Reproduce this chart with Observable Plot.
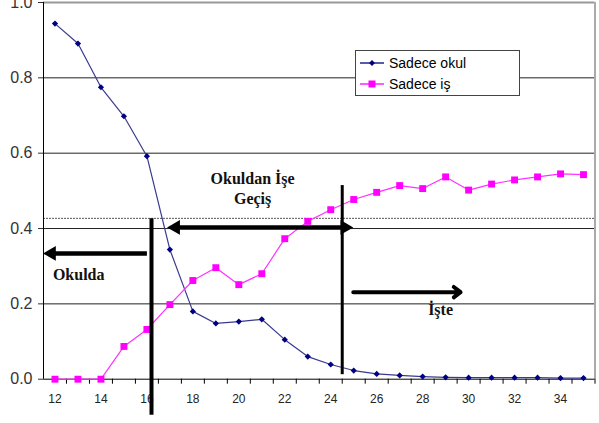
<!DOCTYPE html>
<html><head><meta charset="utf-8">
<script src="https://cdn.jsdelivr.net/npm/d3@7"></script>
<script src="https://cdn.jsdelivr.net/npm/@observablehq/plot@0.6"></script>
<style>
body{margin:0;background:#fff;}
#wrap{position:relative;width:599px;height:423px;overflow:hidden;}
#legend{position:absolute;left:355px;top:50px;width:163px;height:44px;background:#fff;border:1px solid #444;font-family:"Liberation Sans",Arial,sans-serif;font-size:14px;color:#000;}
.row{position:absolute;left:4px;height:18px;display:flex;align-items:center;}
.row span{margin-left:5px;}
</style></head>
<body>
<div id="wrap"><div id="chart"></div>
<div id="legend">
 <div class="row" style="top:3px"><svg width="24" height="10"><line x1="0" y1="5" x2="24" y2="5" stroke="#000080" stroke-width="1.3"/><path d="M12 2 L15 5 L12 8 L9 5Z" fill="#000080"/></svg><span>Sadece okul</span></div>
 <div class="row" style="top:24px"><svg width="24" height="10"><line x1="0" y1="5" x2="24" y2="5" stroke="#ff00ff" stroke-width="1.3"/><rect x="8.5" y="1.5" width="7" height="7" fill="#ff00ff"/></svg><span>Sadece iş</span></div>
</div>
</div>
<script>
const ages = [12,13,14,15,16,17,18,19,20,21,22,23,24,25,26,27,28,29,30,31,32,33,34,35];
const okul = [0.944,0.891,0.775,0.698,0.592,0.344,0.180,0.148,0.153,0.159,0.105,0.060,0.039,0.023,0.014,0.010,0.007,0.005,0.004,0.004,0.004,0.004,0.003,0.003];
const is = [0,0,0,0.087,0.132,0.198,0.262,0.296,0.251,0.280,0.373,0.419,0.450,0.477,0.496,0.514,0.506,0.537,0.502,0.518,0.529,0.537,0.545,0.543];
const xLabels = [12,14,16,18,20,22,24,26,28,30,32,34];
const xTickMarks = [12.5,13.5,14.5,15.5,16.5,17.5,18.5,19.5,20.5,21.5,22.5,23.5,24.5,25.5,26.5,27.5,28.5,29.5,30.5,31.5,32.5,33.5,34.5,35.5];
const yTicks = [0,0.2,0.4,0.6,0.8,1.0];
const gridVals = [0.2,0.4,0.6,0.8];
const refLevel = [0.427];
// annotations (data units)
const vLines = [{x:16.2,y1:-0.096,y2:0.426,w:4},{x:24.5,y1:0.012,y2:0.514,w:3}];
const shafts = [{x1:17.25,x2:24.61,y:0.403},{x1:16.0,x2:11.85,y:0.334}];
const heads = [{x:17.25,y:0.403,rot:-90},{x:24.61,y:0.403,rot:90},{x:11.85,y:0.334,rot:-90}];
const openArrow = [{x1:24.98,x2:29.65,y:0.231}];
const leftLabels = [{x:11.91,y:0.277,t:"Okulda"}];
const centerLabels = [
  {x:28.78,y:0.185,t:"İşte"},
  {x:20.6,y:0.533,t:"Okuldan İşe"},
  {x:20.6,y:0.480,t:"Geçiş"}
];

const rows = ages.map((a,i)=>({age:a, okul:okul[i], is:is[i]}));
const serif = "'Liberation Serif', 'Times New Roman', serif";

const chart = Plot.plot({
  width: 599, height: 423,
  marginLeft: 43, marginRight: 4.5, marginTop: 2, marginBottom: 44.3,
  style: {fontFamily: "'Liberation Sans', Arial, sans-serif", background: "#fff", overflow: "visible"},
  x: {domain: [11.5, 35.5]},
  y: {domain: [0, 1]},
  marks: [
    Plot.ruleY(gridVals, {x1: 11.5, x2: 35.5, stroke: "#222", strokeWidth: 1}),
    Plot.ruleY([1], {x1: 11.5, x2: 35.5, stroke: "#999", strokeWidth: 2}),
    Plot.ruleX([35.5], {y1: 0, y2: 1, stroke: "#aaa", strokeWidth: 2}),
    Plot.ruleY(refLevel, {x1: 11.5, x2: 35.5, stroke: "#555", strokeWidth: 1, strokeDasharray: "2,1"}),
    Plot.ruleX([11.5], {y1: 0, y2: 1, stroke: "#000", strokeWidth: 1}),
    Plot.ruleY([0], {x1: 11.5, x2: 35.5, stroke: "#000", strokeWidth: 1}),
    Plot.axisY({ticks: yTicks, tickFormat: d3.format(".1f"), tickSize: 5, tickPadding: 6, fontSize: 16, color: "#333", label: null}),
    Plot.axisX({ticks: xTickMarks, tickFormat: () => "", tickSize: 5, label: null, stroke: "#000"}),
    Plot.axisX({ticks: xLabels, tickSize: 0, tickPadding: 15, fontSize: 12, color: "#222", label: null}),
    Plot.line(rows, {x: "age", y: "okul", stroke: "#3a3a90", strokeWidth: 1.2}),
    Plot.dot(rows, {x: "age", y: "okul", symbol: "diamond2", r: 2.8, fill: "#000080", stroke: "none"}),
    Plot.line(rows, {x: "age", y: "is", stroke: "#ff33ff", strokeWidth: 1.2}),
    Plot.dot(rows, {x: "age", y: "is", symbol: "square", r: 3.9, fill: "#ff00ff", stroke: "none"}),
    Plot.ruleX(vLines, {x: "x", y1: "y1", y2: "y2", stroke: "#000", strokeWidth: d => d.w}),
    Plot.link(shafts, {x1: "x1", x2: "x2", y1: "y", y2: "y", stroke: "#000", strokeWidth: 4.5}),
    Plot.dot(heads, {x: "x", y: "y", symbol: "triangle", rotate: "rot", r: 5.5, fill: "#000", stroke: "none"}),
    Plot.arrow(openArrow, {x1: "x1", x2: "x2", y1: "y", y2: "y", stroke: "#000", strokeWidth: 4, headLength: 3.2, headAngle: 75}),
    Plot.text(leftLabels, {x: "x", y: "y", text: "t", textAnchor: "start", fontFamily: serif, fontWeight: "bold", fontSize: 16, fill: "#111"}),
    Plot.text(centerLabels, {x: "x", y: "y", text: "t", textAnchor: "middle", fontFamily: serif, fontWeight: "bold", fontSize: 16, fill: "#111"})
  ]
});
document.getElementById("chart").appendChild(chart);
</script>
</body></html>
